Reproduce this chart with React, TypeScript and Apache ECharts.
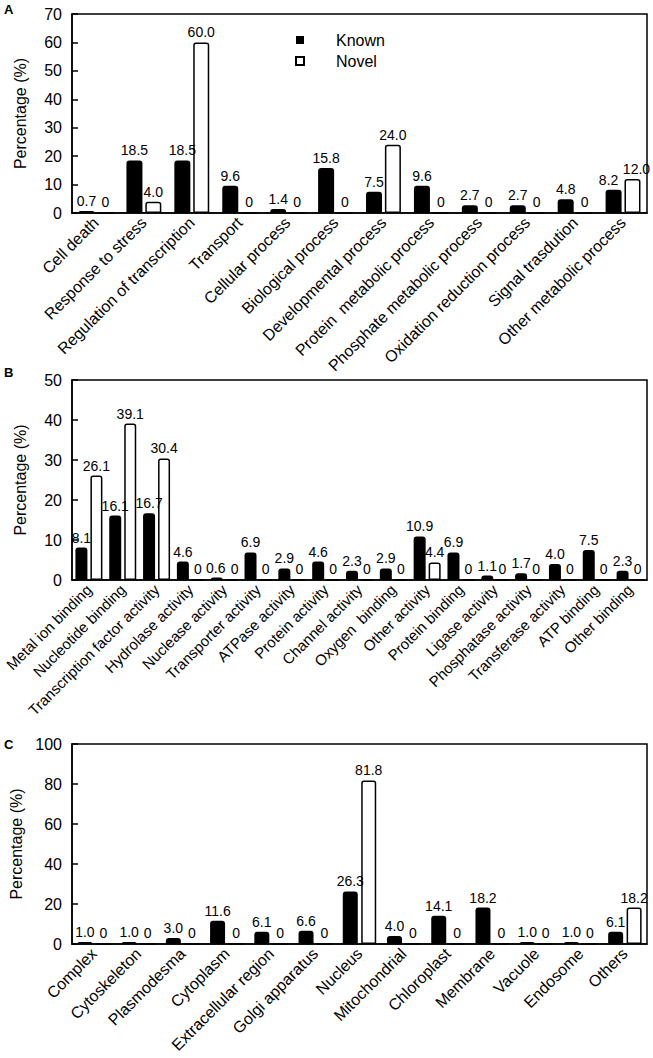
import React, { useEffect, useRef } from "react";
import * as echarts from "echarts";

const catsA = [
  "Cell death",
  "Response to stress",
  "Regulation of transcription",
  "Transport",
  "Cellular process",
  "Biological process",
  "Developmental process",
  "Protein  metabolic process",
  "Phosphate metabolic process",
  "Oxidation reduction process",
  "Signal trasdution",
  "Other metabolic process",
];
const knownA = [0.7, 18.5, 18.5, 9.6, 1.4, 15.8, 7.5, 9.6, 2.7, 2.7, 4.8, 8.2];
const novelA = [0, 4.0, 60.0, 0, 0, 0, 24.0, 0, 0, 0, 0, 12.0];

const catsB = [
  "Metal ion binding",
  "Nucleotide binding",
  "Transcription factor activity",
  "Hydrolase activity",
  "Nuclease activity",
  "Transporter activity",
  "ATPase activity",
  "Protein activity",
  "Channel activity",
  "Oxygen  binding",
  "Other activity",
  "Protein binding",
  "Ligase activity",
  "Phosphatase activity",
  "Transferase activity",
  "ATP binding",
  "Other binding",
];
const knownB = [8.1, 16.1, 16.7, 4.6, 0.6, 6.9, 2.9, 4.6, 2.3, 2.9, 10.9, 6.9, 1.1, 1.7, 4.0, 7.5, 2.3];
const novelB = [26.1, 39.1, 30.4, 0, 0, 0, 0, 0, 0, 0, 4.4, 0, 0, 0, 0, 0, 0];

const catsC = [
  "Complex",
  "Cytoskeleton",
  "Plasmodesma",
  "Cytoplasm",
  "Extracellular region",
  "Golgi apparatus",
  "Nucleus",
  "Mitochondrial",
  "Chloroplast",
  "Membrane",
  "Vacuole",
  "Endosome",
  "Others",
];
const knownC = [1.0, 1.0, 3.0, 11.6, 6.1, 6.6, 26.3, 4.0, 14.1, 18.2, 1.0, 1.0, 6.1];
const novelC = [0, 0, 0, 0, 0, 0, 81.8, 0, 0, 0, 0, 0, 18.2];

const yTicksA = { max: 70, interval: 10 };
const yTicksB = { max: 50, interval: 10 };
const yTicksC = { max: 100, interval: 20 };

const FONT = "Liberation Sans, Arial, sans-serif";

export default function App() {
  const ref = useRef<HTMLDivElement>(null);
  useEffect(() => {
    if (!ref.current) return;
    const chart = echarts.init(ref.current, null, { renderer: "svg" });
    const grids = [
      { left: 72, right: 6, top: 14, height: 199 },
      { left: 72, right: 6, top: 380, height: 200 },
      { left: 72, right: 6, top: 744, height: 200 },
    ].map((g) => ({
      ...g,
      show: true,
      borderColor: "#000",
      borderWidth: 1.5,
      backgroundColor: "#fff",
      containLabel: false,
    }));
    const cats = [catsA, catsB, catsC];
    const ticks = [yTicksA, yTicksB, yTicksC];
    const knowns = [knownA, knownB, knownC];
    const novels = [novelA, novelB, novelC];
    const barWidths = [16, 12, 15];
    const barGaps = ["18%", "25%", "23%"];
    const catFonts = [16, 15, 16];

    const labelFmt = (p: any) => (p.value === 0 ? "0" : Number(p.value).toFixed(1));
    const labelCfg = {
      show: true,
      position: "top",
      distance: 3,
      color: "#000",
      fontSize: 14,
      fontFamily: FONT,
      formatter: labelFmt,
    };

    // nudge crowded labels apart: [panel, index, dxKnown, dxNovel]
    const nudges: [number, number, number, number][] = [
      [0, 11, -5, 4],
      [1, 4, -1, 3],
    ];
    const withNudge = (vals: number[], panel: number, which: number) =>
      vals.map((v, j) => {
        const n = nudges.find((q) => q[0] === panel && q[1] === j);
        return n ? { value: v, label: { offset: [n[2 + which], 0] } } : v;
      });

    const xAxis = cats.map((c, i) => ({
      type: "category",
      gridIndex: i,
      data: c,
      boundaryGap: true,
      axisLine: { lineStyle: { color: "#000", width: 1.5 } },
      axisTick: { show: false },
      axisLabel: {
        interval: 0,
        rotate: 45,
        color: "#000",
        fontSize: catFonts[i],
        fontFamily: FONT,
        margin: 7,
      },
    }));
    const yAxis = ticks.map((t, i) => ({
      type: "value",
      gridIndex: i,
      min: 0,
      max: t.max,
      interval: t.interval,
      name: "Percentage (%)",
      nameLocation: "middle",
      nameGap: 44,
      nameTextStyle: { color: "#000", fontSize: 16, fontFamily: FONT },
      axisLine: { show: true, lineStyle: { color: "#000", width: 1.5 } },
      axisTick: { show: true, inside: true, length: 6, lineStyle: { color: "#000", width: 1.5 } },
      splitLine: { show: false },
      axisLabel: { color: "#000", fontSize: 16, fontFamily: FONT, margin: 10 },
    }));
    const series: any[] = [];
    for (let i = 0; i < 3; i++) {
      series.push({
        type: "bar",
        name: "Known",
        xAxisIndex: i,
        yAxisIndex: i,
        data: withNudge(knowns[i], i, 0),
        barWidth: barWidths[i],
        barGap: barGaps[i],
        itemStyle: { color: "#000", borderColor: "#000", borderWidth: 0, borderRadius: [3, 3, 0, 0] },
        label: labelCfg,
      });
      series.push({
        type: "bar",
        name: "Novel",
        xAxisIndex: i,
        yAxisIndex: i,
        data: withNudge(novels[i], i, 1),
        barWidth: barWidths[i],
        barGap: barGaps[i],
        itemStyle: { color: "#fff", borderColor: "#000", borderWidth: 1.5, borderRadius: [2, 2, 0, 0] },
        label: labelCfg,
      });
    }
    chart.setOption({
      animation: false,
      backgroundColor: "#fff",
      grid: grids,
      xAxis,
      yAxis,
      series,
      legend: {
        data: [
          { name: "Known", itemStyle: { color: "#000", borderWidth: 0 } },
          { name: "Novel", itemStyle: { color: "#fff", borderColor: "#000", borderWidth: 2 } },
        ],
        orient: "vertical",
        left: 290,
        top: 27,
        icon: "rect",
        itemWidth: 8,
        itemHeight: 8,
        itemGap: 5,
        textStyle: { color: "#000", fontSize: 16, fontFamily: FONT, padding: [0, 0, 0, 27] },
      },
      graphic: [
        { type: "text", left: 4, top: 3, style: { text: "A", font: `bold 13px ${FONT}`, fill: "#000" } },
        { type: "text", left: 4, top: 366, style: { text: "B", font: `bold 13px ${FONT}`, fill: "#000" } },
        { type: "text", left: 4, top: 738, style: { text: "C", font: `bold 13px ${FONT}`, fill: "#000" } },
      ],
    });
    return () => chart.dispose();
  }, []);
  return (
    <div
      ref={ref}
      style={{ position: "absolute", left: 0, top: 0, width: 653, height: 1058, background: "#fff" }}
    />
  );
}
